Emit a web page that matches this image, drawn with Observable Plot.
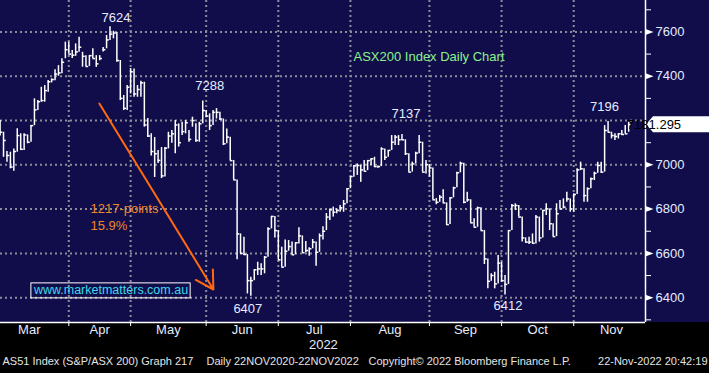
<!DOCTYPE html>
<html><head><meta charset="utf-8">
<script src="https://cdn.jsdelivr.net/npm/d3@7"></script>
<script src="https://cdn.jsdelivr.net/npm/@observablehq/plot@0.6"></script>
<style>
html,body{margin:0;padding:0;background:#000;}
#chart svg{display:block;}
</style></head><body><div id="chart"></div>
<script>
// Daily OHLC bars, trading-day index 0 = 3 Mar 2022 ... 183 = 22 Nov 2022
const high = [7200,7147,7060,7057,7072,7163,7140,7140,7135,7177,7298,7290,7350,7358,7381,7388,7429,7448,7479,7554,
7554,7516,7546,7576,7508,7493,7493,7524,7493,7493,7530,7584,7624,7603,7597,7471,7313,7358,7435,7433,
7358,7377,7373,7209,7140,7123,7065,7078,7078,7147,7155,7200,7185,7192,7200,7155,7215,7185,7192,7288,
7245,7230,7245,7254,7237,7207,7162,7125,7019,6932,6688,6673,6595,6492,6526,6560,6553,6586,6716,6767,
6767,6703,6628,6661,6658,6651,6648,6716,6679,6654,6625,6663,6651,6688,6720,6780,6801,6809,6801,6816,
6839,6892,6947,6997,7004,6997,7019,7019,7027,7034,6995,7077,7072,7065,7132,7132,7132,7137,7113,7050,
7012,7057,7132,7102,7019,7001,6986,6848,6861,6887,6828,6851,6899,6967,7012,7007,6876,6842,6756,6809,
6806,6703,6575,6508,6515,6590,6560,6500,6703,6821,6824,6816,6764,6670,6673,6688,6771,6764,6794,6824,
6801,6734,6824,6839,6846,6876,6846,6869,6982,7012,6982,6896,6941,6967,7012,7012,7177,7196,7147,7140,
7140,7155,7177,7192];
const low = [7130,7034,7012,6982,6971,7057,7065,7065,7095,7102,7177,7245,7283,7283,7328,7370,7380,7400,7411,7479,
7500,7480,7490,7508,7441,7444,7444,7480,7440,7470,7510,7524,7561,7569,7463,7290,7245,7245,7320,7305,
7305,7305,7170,7123,7040,6943,7006,6938,6945,7072,7097,7050,7080,7132,7140,7102,7170,7102,7102,7185,
7213,7155,7177,7207,7200,7087,7095,7019,6932,6571,6598,6590,6417,6407,6477,6500,6500,6508,6583,6711,
6670,6571,6538,6538,6610,6594,6594,6643,6603,6603,6587,6621,6542,6605,6660,6703,6749,6764,6779,6786,
6786,6824,6892,6944,6952,6921,6971,6974,6997,6989,6985,6992,7019,7034,7065,7087,7087,7110,7042,6967,
6967,7004,7050,6967,6959,6944,6842,6820,6831,6828,6726,6730,6851,6896,6964,6824,6831,6738,6718,6718,
6703,6550,6440,6474,6440,6462,6470,6412,6460,6703,6794,6764,6651,6646,6640,6643,6643,6651,6670,6771,
6703,6676,6676,6801,6801,6831,6786,6786,6866,6974,6831,6831,6892,6929,6962,6962,6967,7147,7117,7110,
7117,7132,7140,7147];
const close = [7147,7110,7042,6990,7060,7132,7070,7135,7102,7177,7248,7285,7290,7335,7375,7385,7410,7415,7463,7520,
7500,7495,7510,7531,7490,7444,7493,7480,7456,7480,7520,7564,7590,7595,7471,7300,7255,7350,7420,7320,
7340,7370,7180,7130,7060,7050,7020,6950,7075,7130,7140,7180,7100,7150,7190,7115,7200,7110,7185,7245,
7220,7177,7237,7237,7207,7095,7125,7019,6932,6688,6600,6595,6477,6477,6526,6530,6530,6583,6711,6767,
6703,6571,6538,6610,6631,6594,6648,6679,6603,6613,6621,6651,6605,6680,6700,6764,6797,6786,6794,6806,
6824,6892,6947,6995,6997,6977,6971,7019,7027,6992,6992,7072,7034,7065,7102,7125,7113,7113,7050,6967,
7004,7053,7102,6967,7001,6986,6842,6831,6854,6828,6730,6851,6896,6964,7007,6831,6842,6738,6718,6806,
6703,6575,6474,6500,6462,6556,6477,6460,6703,6816,6816,6764,6670,6651,6651,6646,6764,6670,6794,6801,
6734,6676,6779,6801,6809,6846,6801,6866,6977,6982,6861,6892,6937,6962,6997,6967,7155,7147,7132,7128,
7140,7137,7140,7181.295];

const monthNames = ["Mar","Apr","May","Jun","Jul","Aug","Sep","Oct","Nov"];
// index of last session of the previous month (month boundaries)
const monthBounds = [-3,20,38,60,81,102,125,146,167,189];
const yearLabel = "2022";
const yTicks = [6400,6600,6800,7000,7200,7400,7600];
const yLabelTicks = [6400,6600,6800,7000,7400,7600]; // 7200 is hidden under the last-price tag
const yMinor = [6300,6500,6700,6900,7100,7300,7500,7700];
const peakLabels = ["7624","7288","7137","7196","6407","6412"];
const peakIdx = [32,59,117,177,73,147];
const peakVal = [7624,7288,7137,7196,6407,6412];
const arrowFrom = [28.9, 7277];
const arrowTo = [62.1, 6437];
const dropText = ["1217-points","15.9%"];
const chartTitle = "ASX200 Index Daily Chart";
const site = "www.marketmatters.com.au";
const footer = ["AS51 Index (S&P/ASX 200) Graph 217","Daily 22NOV2020-22NOV2022","Copyright\u00A9 2022 Bloomberg Finance L.P.","22-Nov-2022 20:42:19"];

const bars = high.map((h,i)=>({i, high:h, low:low[i], close:close[i]}));
const xDomain = [0.12, 187.9];
const yDomain = [6288, 7742];
const NAVY = "#100d4a";
const GRID = "#8c8c98";
const TXT = "#e6ecff";
const FONT = "'Liberation Sans', Arial, sans-serif";

const tri = {draw(ctx){ctx.moveTo(0,-3);ctx.lineTo(8,0);ctx.lineTo(0,3);ctx.closePath();}};

const peakDx = [6,7,4,-3.5,-3,3];
const peakDy = [-9,-15,-21,-15,13,11];
const footerDx = [2,206,368];

const marks = [
  Plot.ruleY(yTicks, {stroke: GRID, strokeWidth: 2, strokeDasharray: "2,3"}),
  Plot.ruleX(monthBounds.slice(1,-1), {stroke: GRID, strokeWidth: 2, strokeDasharray: "2,3"}),
  Plot.ruleX(bars, {x: "i", y1: "low", y2: "high", stroke: "white", strokeWidth: 1.5}),
  Plot.ruleY(bars, {y: "close", x1: "i", x2: d => d.i + 0.8, stroke: "white", strokeWidth: 1.5}),
  Plot.ruleX([xDomain[1]], {stroke: "white", strokeWidth: 1.5}),
  Plot.ruleY([yDomain[0]], {stroke: "white", strokeWidth: 1.5}),
  Plot.axisX(monthBounds.slice(1,-1), {anchor: "bottom", tickSize: 4, stroke: "white", tickFormat: () => "", label: null}),
  Plot.axisY(yMinor, {anchor: "right", tickSize: 5, stroke: "white", tickFormat: () => "", label: null}),
  Plot.axisY(yLabelTicks, {anchor: "right", tickSize: 0, tickPadding: 10, fill: TXT, fontSize: 13, tickFormat: d3.format("d"), label: null}),
  Plot.dot(yLabelTicks, {y: d => d, frameAnchor: "right", symbol: tri, r: 4, fill: "white", stroke: null}),
  Plot.text(monthNames, {x: (d,k) => (monthBounds[k] + monthBounds[k+1]) / 2, frameAnchor: "bottom", dy: 11, fill: TXT, fontSize: 13}),
  Plot.text([yearLabel], {x: [(monthBounds[4] + monthBounds[5]) / 2], frameAnchor: "bottom", dx: 9, dy: 26, fill: TXT, fontSize: 13}),
  Plot.arrow([0], {x1: arrowFrom[0], y1: arrowFrom[1], x2: arrowTo[0], y2: arrowTo[1], stroke: "#ff6a10", strokeWidth: 2, headLength: 15, headAngle: 60}),
  Plot.text([chartTitle], {frameAnchor: "top-left", dx: 353, dy: 51, textAnchor: "start", fill: "#8cf08c", fontSize: 13}),
  Plot.text([dropText[0]], {frameAnchor: "top-left", dx: 90, dy: 203, textAnchor: "start", fill: "#f0862a", fontSize: 13}),
  Plot.text([dropText[1]], {frameAnchor: "top-left", dx: 90, dy: 220, textAnchor: "start", fill: "#f0862a", fontSize: 13}),
  Plot.text([site], {frameAnchor: "top-left", dx: 110.5, dy: 285, textAnchor: "middle", fill: "#3fd8ee", fontSize: 12.5}),
  ...peakLabels.map((t,k) => Plot.text([t], {x: [peakIdx[k]], y: [peakVal[k]], dx: peakDx[k], dy: peakDy[k], fill: TXT, fontSize: 13})),
  ...footer.slice(0,3).map((t,k) => Plot.text([t], {frameAnchor: "bottom-left", dx: footerDx[k], dy: 42, textAnchor: "start", fill: "#e4e4e4", fontSize: 11})),
  Plot.text([footer[3]], {frameAnchor: "bottom-right", dx: 62, dy: 42, textAnchor: "end", fill: "#e4e4e4", fontSize: 11})
];

const chart = Plot.plot({
  width: 709, height: 373,
  marginLeft: 0, marginRight: 64, marginTop: 0, marginBottom: 51,
  x: {domain: xDomain, label: null},
  y: {domain: yDomain, label: null},
  style: {background: `linear-gradient(to bottom, ${NAVY} 0px, ${NAVY} 322px, #000 322px)`, fontFamily: FONT, fontSize: "13px", color: TXT},
  marks
});
document.getElementById("chart").appendChild(chart);

// watermark box (same transform as its text) and last-price tag
const svg = d3.select(chart);
const siteNode = Array.from(chart.querySelectorAll("text")).find(t => t.textContent === site);
if (siteNode) {
  const b = siteNode.getBBox();
  const r = document.createElementNS("http://www.w3.org/2000/svg", "rect");
  r.setAttribute("x", b.x - 2); r.setAttribute("y", b.y - 0.5);
  r.setAttribute("width", b.width + 4); r.setAttribute("height", b.height + 1);
  r.setAttribute("fill", "none"); r.setAttribute("stroke", "white"); r.setAttribute("stroke-width", 1);
  const tf = siteNode.getAttribute("transform");
  if (tf) r.setAttribute("transform", tf);
  siteNode.parentNode.insertBefore(r, siteNode);
}
const yp = chart.scale("y").apply(close[close.length - 1]);
const xp = chart.scale("x").apply(xDomain[1]);
svg.append("path").attr("d", `M${xp+1},${yp} L${xp+8},${yp-8} L709,${yp-8} L709,${yp+8} L${xp+8},${yp+8} Z`).attr("fill", "white");
svg.append("text").attr("x", xp + 9).attr("y", yp).attr("dy", "0.35em").attr("fill", "#000")
  .attr("font-size", 13).attr("font-family", FONT).text(close[close.length - 1].toFixed(3));
</script></body></html>
